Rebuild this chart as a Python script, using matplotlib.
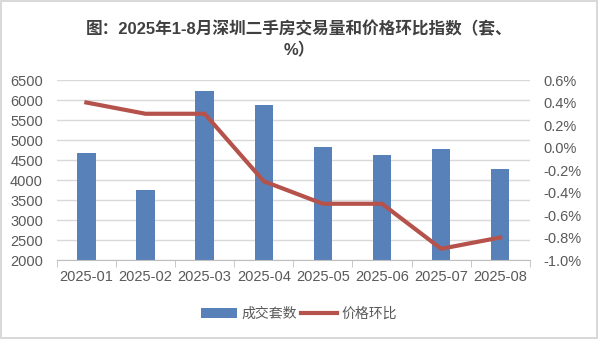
import matplotlib
matplotlib.use("Agg")
from matplotlib import pyplot as plt
from matplotlib.ticker import FuncFormatter, MultipleLocator
import numpy as np

plt.rcParams['font.family'] = ['Liberation Sans', 'Noto Sans CJK SC', 'DejaVu Sans']

# data
months = ["2025-01", "2025-02", "2025-03", "2025-04",
          "2025-05", "2025-06", "2025-07", "2025-08"]
volume = [4680, 3750, 6230, 5870, 4830, 4630, 4780, 4280]
price_mom = [0.4, 0.3, 0.3, -0.3, -0.5, -0.5, -0.9, -0.8]

bar_color = "#5881BA"
line_color = "#B5524B"
text_color = "#595959"
grid_color = "#D9D9D9"

fig = plt.figure(figsize=(5.98, 3.39), dpi=100)
fig.patch.set_edgecolor("#D9D9D9")
fig.patch.set_linewidth(1.5)

ax = fig.add_axes([0.095, 0.233, 0.791, 0.531])
x = np.arange(len(months))
bars = ax.bar(x, volume, width=0.31, color=bar_color, zorder=2, label="成交套数")
ax.set_ylim(2000, 6500)
ax.yaxis.set_major_locator(MultipleLocator(500))
ax.set_xlim(-0.5, len(months) - 0.5)
ax.set_xticks(x)
ax.set_xticklabels(months)
ax.set_xticks(np.arange(-0.5, len(months), 1), minor=True)
ax.tick_params(axis="x", which="major", length=0, pad=7, labelsize=10.5, colors=text_color)
ax.tick_params(axis="x", which="minor", length=5, color="#BFBFBF")
ax.tick_params(axis="y", length=0, labelsize=10.5, colors=text_color, pad=10)
ax.grid(axis="y", color=grid_color, linewidth=1, zorder=0)
for s in ["top", "right", "left"]:
    ax.spines[s].set_visible(False)
ax.spines["bottom"].set_color("#BFBFBF")

ax2 = ax.twinx()
line, = ax2.plot(x, price_mom, color=line_color, linewidth=3, zorder=3, label="价格环比")
ax2.set_ylim(-1.0, 0.6)
ax2.yaxis.set_major_locator(MultipleLocator(0.2))
ax2.yaxis.set_major_formatter(FuncFormatter(lambda v, p: f"{v:.1f}%"))
ax2.tick_params(axis="y", length=0, labelsize=10.5, colors=text_color, pad=10)
for s in ["top", "right", "left", "bottom"]:
    ax2.spines[s].set_visible(False)

fig.text(0.5, 0.915, "图：2025年1-8月深圳二手房交易量和价格环比指数（套、",
         ha="center", va="center", fontsize=12, fontweight="bold", color="#404040")
fig.text(0.5, 0.852, "%）", ha="center", va="center", fontsize=12,
         fontweight="bold", color="#404040")

fig.legend([bars, line], ["成交套数", "价格环比"], loc="center",
           bbox_to_anchor=(0.5, 0.075), ncol=2, frameon=False, fontsize=10,
           labelcolor=text_color, handlelength=2.6, columnspacing=0.3,
           handletextpad=0.3)

fig.savefig("out.png", dpi=100, edgecolor=fig.get_edgecolor())
